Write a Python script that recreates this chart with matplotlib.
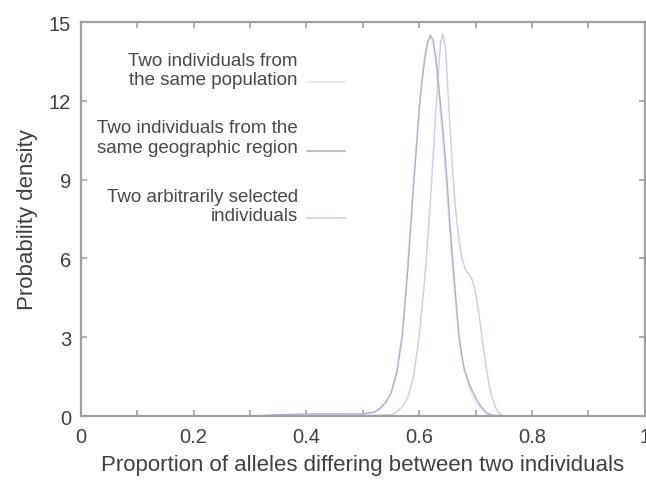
import matplotlib
matplotlib.use("Agg")
import matplotlib.pyplot as plt
from matplotlib.ticker import MultipleLocator

plt.rcParams['font.family'] = ['Liberation Sans', 'DejaVu Sans']

# Data
x_geo = [0.30, 0.35, 0.40, 0.45, 0.50, 0.52, 0.53, 0.54, 0.55, 0.56, 0.57, 0.58, 0.59,
         0.60, 0.605, 0.61, 0.615, 0.62, 0.625, 0.63, 0.635, 0.64, 0.645, 0.65, 0.655,
         0.66, 0.665, 0.67, 0.675, 0.68, 0.69, 0.70, 0.71, 0.72, 0.73, 0.75]
y_geo = [0.0, 0.05, 0.08, 0.08, 0.08, 0.15, 0.28, 0.5, 0.85, 1.6, 3.0, 5.6, 8.7,
         11.6, 12.7, 13.6, 14.2, 14.5, 14.3, 13.6, 12.5, 11.4, 10.2, 8.8, 7.2,
         5.8, 4.5, 3.2, 2.4, 1.8, 1.15, 0.7, 0.35, 0.12, 0.03, 0.0]

x_pop = [0.45, 0.50, 0.52, 0.53, 0.54, 0.55, 0.56, 0.57, 0.58, 0.59, 0.60, 0.605,
         0.61, 0.615, 0.62, 0.625, 0.63, 0.635, 0.64, 0.645, 0.65, 0.66, 0.67,
         0.68, 0.69, 0.70, 0.71, 0.72, 0.74]
y_pop = [0.0, 0.05, 0.12, 0.25, 0.5, 0.9, 1.7, 3.2, 5.9, 9.0, 11.8, 12.9,
         13.8, 14.3, 14.4, 14.1, 13.3, 12.1, 10.9, 9.6, 8.2, 5.3, 3.0,
         1.7, 1.0, 0.55, 0.25, 0.08, 0.0]

x_arb = [0.50, 0.55, 0.56, 0.57, 0.58, 0.59, 0.60, 0.61, 0.62, 0.63, 0.635, 0.638,
         0.642, 0.647, 0.652, 0.658, 0.664, 0.670, 0.676, 0.682, 0.688, 0.694,
         0.700, 0.706, 0.712, 0.718, 0.724, 0.730, 0.736, 0.743, 0.75]
y_arb = [0.0, 0.05, 0.15, 0.35, 0.7, 1.5, 3.0, 5.2, 8.2, 11.7, 13.3, 14.2,
         14.55, 14.0, 12.0, 9.8, 8.0, 6.8, 6.0, 5.6, 5.4, 5.2,
         4.7, 3.9, 2.9, 2.0, 1.2, 0.65, 0.3, 0.08, 0.0]

legend_labels = ["Two individuals from\nthe same population",
                 "Two individuals from the\nsame geographic region",
                 "Two arbitrarily selected\nindividuals"]
colors = ['#ece3ec', '#b3adcc', '#d8cce4']

xticks = [0, 0.2, 0.4, 0.6, 0.8, 1]
xticklabels = ['0', '0.2', '0.4', '0.6', '0.8', '1']
yticks = [0, 3, 6, 9, 12, 15]

fig = plt.figure(figsize=(6.46, 4.81), dpi=100)
ax = fig.add_axes([0.125, 0.133, 0.873, 0.819])

ax.plot(x_pop, y_pop, color=colors[0], lw=1.0)
ax.plot(x_arb, y_arb, color=colors[2], lw=1.1)
ax.plot(x_geo, y_geo, color=colors[1], lw=1.0)

ax.set_xlim(0, 1)
ax.set_ylim(0, 15)
ax.set_xticks(xticks)
ax.set_xticklabels(xticklabels)
ax.xaxis.set_minor_locator(MultipleLocator(0.1))
ax.set_yticks(yticks)

gray = '#a0a0a0'
for s in ax.spines.values():
    s.set_color(gray)
    s.set_linewidth(1.6)
ax.tick_params(which='both', direction='in', top=True, right=True, color=gray,
               length=4, width=1.2, labelsize=14.5, labelcolor='#404040')
ax.tick_params(axis='x', pad=8)
ax.tick_params(axis='y', pad=7)

ax.set_xlabel("Proportion of alleles differing between two individuals",
              fontsize=16, color='#404040', labelpad=6)
ax.set_ylabel("Probability density", fontsize=16, color='#404040', labelpad=8)

# legend (manual)
text_y = [0.878, 0.707, 0.534]
line_y = [0.848, 0.673, 0.503]
for lab, c, ty, lyy in zip(legend_labels, colors, text_y, line_y):
    ax.text(0.385, ty, lab, transform=ax.transAxes, ha='right', va='center',
            fontsize=13.5, color='#484848', linespacing=1.17)
    ax.plot([0.402, 0.468], [lyy, lyy], transform=ax.transAxes,
            color=c, lw=1.2, clip_on=False)

fig.savefig("out.png", dpi=100)
